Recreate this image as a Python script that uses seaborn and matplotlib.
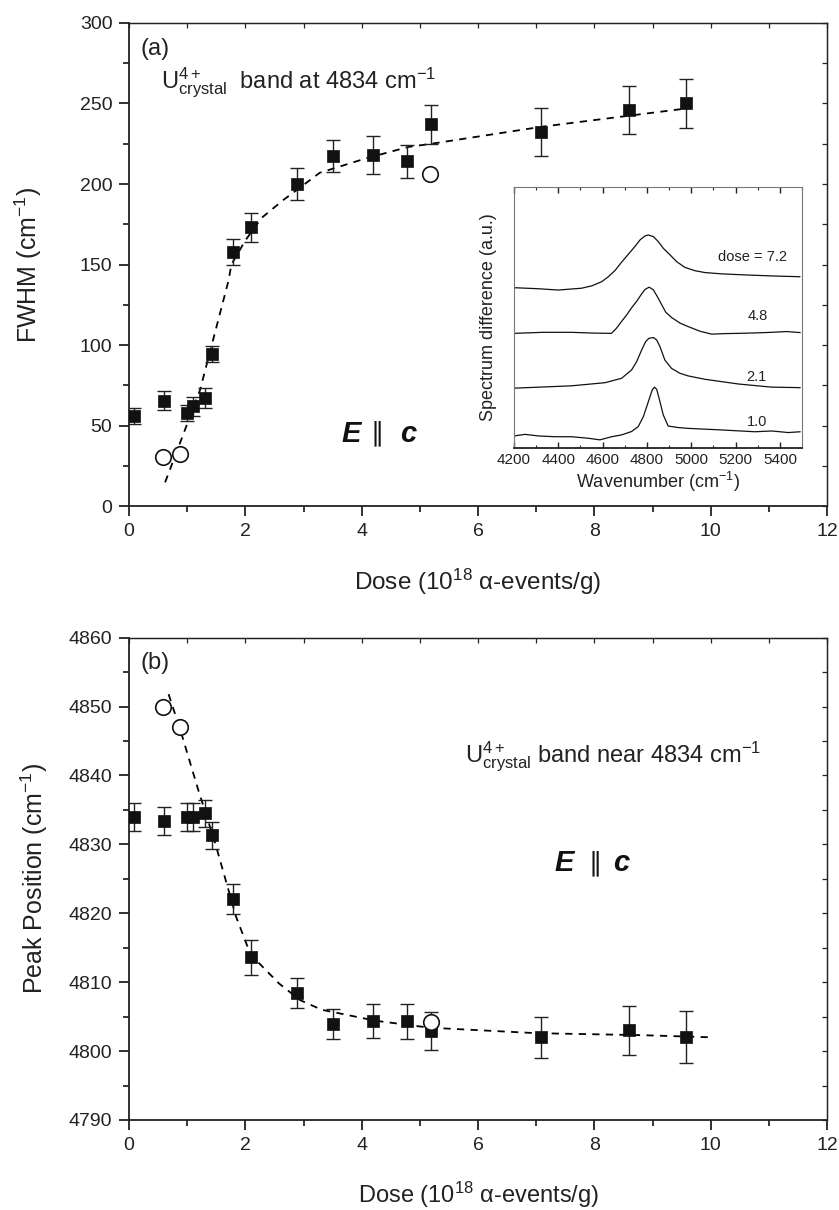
import numpy as np
import pandas as pd
import matplotlib
matplotlib.use("Agg")
import matplotlib.pyplot as plt
from matplotlib.ticker import MultipleLocator
import seaborn as sns

# ---------------- data ----------------
dose = [0.08, 0.6, 1.0, 1.1, 1.3, 1.43, 1.79, 2.09, 2.89, 3.5, 4.19, 4.78, 5.19, 7.09, 8.59, 9.57]

fwhm = [56, 65.5, 58, 62, 67, 94.5, 158, 173, 200, 217.5, 218, 214, 237, 232.5, 246, 250]
fwhm_err = [5, 6, 5, 6, 6, 5, 8, 9, 10, 10, 12, 10, 12, 15, 15, 15]
open_a_dose = [0.59, 0.88, 5.17]
open_a = [30.5, 32.5, 206.5]
fit_a_x = [0.62, 1.22, 1.71, 1.76, 2.0, 2.28, 2.65, 3.28, 4.08, 4.8, 5.2, 7.1, 9.6]
fit_a_y = [14.7, 72, 140, 150, 165, 179, 190, 207, 216, 223, 225, 235.6, 247]

peak = [4834, 4833.4, 4834, 4834, 4834.5, 4831.3, 4822.1, 4813.6, 4808.4, 4803.9,
        4804.4, 4804.3, 4802.9, 4802, 4803, 4802]
peak_err = [2, 2, 2, 2, 2, 2, 2.2, 2.5, 2.2, 2.2, 2.5, 2.5, 2.8, 3, 3.5, 3.8]
open_b_dose = [0.59, 0.88, 5.19]
open_b = [4850, 4847.1, 4804.2]
fit_b_x = [0.68, 0.9, 1.19, 1.48, 1.84, 2.09, 2.58, 2.94, 3.31, 4.24, 5.16, 7.0, 8.85, 10.0]
fit_b_y = [4851.8, 4846.1, 4837.9, 4830.2, 4819.5, 4814, 4809.8, 4807.4, 4806, 4804.4,
           4803.4, 4802.6, 4802.3, 4802.0]

# inset spectra (wavenumber, a.u.)
sp72_x = [4200, 4310, 4400, 4505, 4551, 4596, 4626, 4656, 4686, 4716, 4746, 4769, 4791, 4806,
          4829, 4851, 4874, 4904, 4934, 4971, 5017, 5062, 5137, 5243, 5363, 5491]
sp72_y = [0.614, 0.610, 0.605, 0.612, 0.621, 0.637, 0.656, 0.680, 0.712, 0.742, 0.772, 0.797,
          0.812, 0.816, 0.810, 0.791, 0.765, 0.740, 0.714, 0.692, 0.679, 0.672, 0.667, 0.663,
          0.659, 0.656]
sp48_x = [4200, 4330, 4460, 4560, 4640, 4663, 4686, 4709, 4731, 4754, 4776, 4791, 4810, 4829,
          4851, 4866, 4885, 4911, 4950, 4986, 5040, 5092, 5150, 5213, 5300, 5363, 5430, 5492]
sp48_y = [0.439, 0.443, 0.443, 0.440, 0.439, 0.459, 0.485, 0.510, 0.537, 0.562, 0.590, 0.607,
          0.616, 0.606, 0.574, 0.550, 0.520, 0.500, 0.478, 0.465, 0.447, 0.436, 0.438, 0.439,
          0.441, 0.443, 0.446, 0.442]
sp21_x = [4200, 4460, 4611, 4686, 4731, 4754, 4776, 4794, 4809, 4829, 4844, 4859, 4881, 4911,
          4949, 4986, 5062, 5213, 5363, 5492]
sp21_y = [0.229, 0.238, 0.250, 0.267, 0.299, 0.331, 0.375, 0.407, 0.420, 0.423, 0.414, 0.388,
          0.337, 0.305, 0.286, 0.276, 0.263, 0.245, 0.233, 0.231]
sp10_x = [4200, 4250, 4310, 4385, 4460, 4536, 4588, 4641, 4686, 4731, 4761, 4784, 4799, 4814,
          4824, 4834, 4844, 4855, 4874, 4896, 4942, 4986, 5136, 5288, 5363, 5438, 5492]
sp10_y = [0.046, 0.052, 0.046, 0.043, 0.043, 0.037, 0.031, 0.043, 0.050, 0.063, 0.082, 0.120,
          0.158, 0.197, 0.222, 0.233, 0.225, 0.190, 0.126, 0.084, 0.078, 0.075, 0.069, 0.062,
          0.065, 0.059, 0.062]
spec_labels = ["dose = 7.2", "4.8", "2.1", "1.0"]

# ---------------- style ----------------
sns.set_theme(style="ticks")
plt.rcParams["font.family"] = ["Liberation Sans", "DejaVu Sans"]
plt.rcParams["mathtext.fontset"] = "custom"
plt.rcParams["mathtext.rm"] = "Liberation Sans"
plt.rcParams["mathtext.it"] = "Liberation Sans:italic"
plt.rcParams["mathtext.bf"] = "Liberation Sans:bold"
plt.rcParams["axes.linewidth"] = 1.3
plt.rcParams["axes.edgecolor"] = "#222222"

fig = plt.figure(figsize=(8.39, 12.10), dpi=100)
ax1 = fig.add_axes([0.1538, 0.5818, 0.832, 0.3992])
ax2 = fig.add_axes([0.1538, 0.0744, 0.832, 0.3986])

ls_fit = (0, (4, 3.5))


def style_main(ax, ymaj, ymin):
    ax.set_xlim(0, 12)
    ax.xaxis.set_major_locator(MultipleLocator(2))
    ax.xaxis.set_minor_locator(MultipleLocator(1))
    ax.yaxis.set_major_locator(MultipleLocator(ymaj))
    ax.yaxis.set_minor_locator(MultipleLocator(ymin))
    ax.tick_params(which="major", direction="out", length=7, width=1.3,
                   labelsize=14, colors="#222222", pad=5)
    ax.tick_params(which="minor", direction="out", length=4.5, width=1.3)
    for side in ("top", "right"):
        ax.spines[side].set_visible(True)
        ax.spines[side].set_linewidth(0.9)
    axt = ax.secondary_xaxis("top")
    axt.xaxis.set_major_locator(MultipleLocator(1))
    axt.tick_params(direction="in", length=3.5, width=0.9, labeltop=False)
    axt.spines["top"].set_linewidth(0.9)
    axr = ax.secondary_yaxis("right")
    axr.yaxis.set_major_locator(MultipleLocator(ymin))
    axr.tick_params(direction="in", length=3.5, width=0.9, labelright=False)
    axr.spines["right"].set_linewidth(0.9)


def draw_panel(ax, x, y, yerr, ox, oy, fx, fy):
    sns.lineplot(x=fx, y=fy, ax=ax, color="black", lw=1.3, linestyle=ls_fit,
                 sort=False, estimator=None)
    ax.errorbar(x, y, yerr=yerr, fmt="none", ecolor="#222222", elinewidth=1.0,
                capsize=4.7, capthick=1.0)
    sns.scatterplot(x=x, y=y, ax=ax, marker="s", s=85, color="#111111",
                    edgecolor="#111111", linewidth=0.5, zorder=5)
    sns.scatterplot(x=ox, y=oy, ax=ax, marker="o", s=125, facecolor="white",
                    edgecolor="#111111", linewidth=1.2, zorder=6)


def e_par_c(ax, x, y, dx1, dx2):
    kw = dict(fontsize=21, fontweight="bold", style="italic", va="center", color="#111111")
    ax.annotate("E", (x, y), xycoords="data", **kw)
    ax.annotate("\u2225", (x, y), xytext=(dx1, 0), textcoords="offset points",
                fontsize=19, va="center", color="#111111",
                family=["DejaVu Sans"])
    ax.annotate("c", (x, y), xytext=(dx2, 0), textcoords="offset points", **kw)


xlabel = "Dose (10$^{18}$ \u03b1-events/g)"

# ---------------- panel (a) ----------------
draw_panel(ax1, dose, fwhm, fwhm_err, open_a_dose, open_a, fit_a_x, fit_a_y)
ax1.set_ylim(0, 300)
style_main(ax1, 50, 25)
ax1.set_xlabel(xlabel, fontsize=17.5, color="#222222", va="top")
ax1.xaxis.set_label_coords(0.5, -0.126)
ax1.set_ylabel("FWHM (cm$^{-1}$)", fontsize=18, color="#222222")
ax1.yaxis.set_label_coords(-0.122, 0.5)
ax1.text(0.2, 284, "(a)", fontsize=17, va="center", ha="left", color="#222222")
ax1.text(0.55, 263, "U$^{4+}_{\\mathrm{crystal}}$  band at 4834 cm$^{-1}$",
         fontsize=17, va="center", ha="left", color="#222222")
e_par_c(ax1, 3.65, 45, 21, 42)

# ---------------- inset ----------------
axi = fig.add_axes([0.6126, 0.6298, 0.3433, 0.2157])
for sx, sy in [(sp72_x, sp72_y), (sp48_x, sp48_y), (sp21_x, sp21_y), (sp10_x, sp10_y)]:
    sns.lineplot(x=sx, y=sy, ax=axi, color="#111111", lw=0.9, sort=False, estimator=None)
axi.set_xlim(4200, 5500)
axi.set_ylim(0, 1)
axi.xaxis.set_major_locator(MultipleLocator(200))
axi.xaxis.set_minor_locator(MultipleLocator(100))
axi.set_yticks([])
axi.tick_params(axis="x", which="major", direction="in", length=4, width=1.0,
                labelsize=11, pad=4, top=True, colors="#222222")
axi.tick_params(axis="x", which="minor", direction="in", length=2.5, width=0.8, top=True)
for side in ("top", "left", "right"):
    axi.spines[side].set_linewidth(0.8)
    axi.spines[side].set_color("#777777")
axi.spines["bottom"].set_linewidth(1.3)
axi.set_xlabel("Wavenumber (cm$^{-1}$)", fontsize=13, color="#222222", labelpad=2)
axi.set_ylabel("Spectrum difference (a.u.)", fontsize=13, color="#222222", labelpad=12)
lab_pos = [(5121, 0.733), (5255, 0.507), (5250, 0.273), (5250, 0.10)]
for (lx, ly), t in zip(lab_pos, spec_labels):
    axi.text(lx, ly, t, fontsize=10.5, va="center", ha="left", color="#222222")

# ---------------- panel (b) ----------------
draw_panel(ax2, dose, peak, peak_err, open_b_dose, open_b, fit_b_x, fit_b_y)
ax2.set_ylim(4790, 4860)
style_main(ax2, 10, 5)
ax2.set_xlabel(xlabel, fontsize=17, color="#222222", va="top")
ax2.xaxis.set_label_coords(0.5, -0.124)
ax2.set_ylabel("Peak Position (cm$^{-1}$)", fontsize=18, color="#222222")
ax2.yaxis.set_label_coords(-0.113, 0.5)
ax2.text(0.2, 4856.3, "(b)", fontsize=17, va="center", ha="left", color="#222222")
ax2.text(5.77, 4842.7, "U$^{4+}_{\\mathrm{crystal}}$ band near 4834 cm$^{-1}$",
         fontsize=17, va="center", ha="left", color="#222222")
e_par_c(ax2, 7.32, 4827.3, 24, 42)

fig.savefig("out.png", dpi=100)
